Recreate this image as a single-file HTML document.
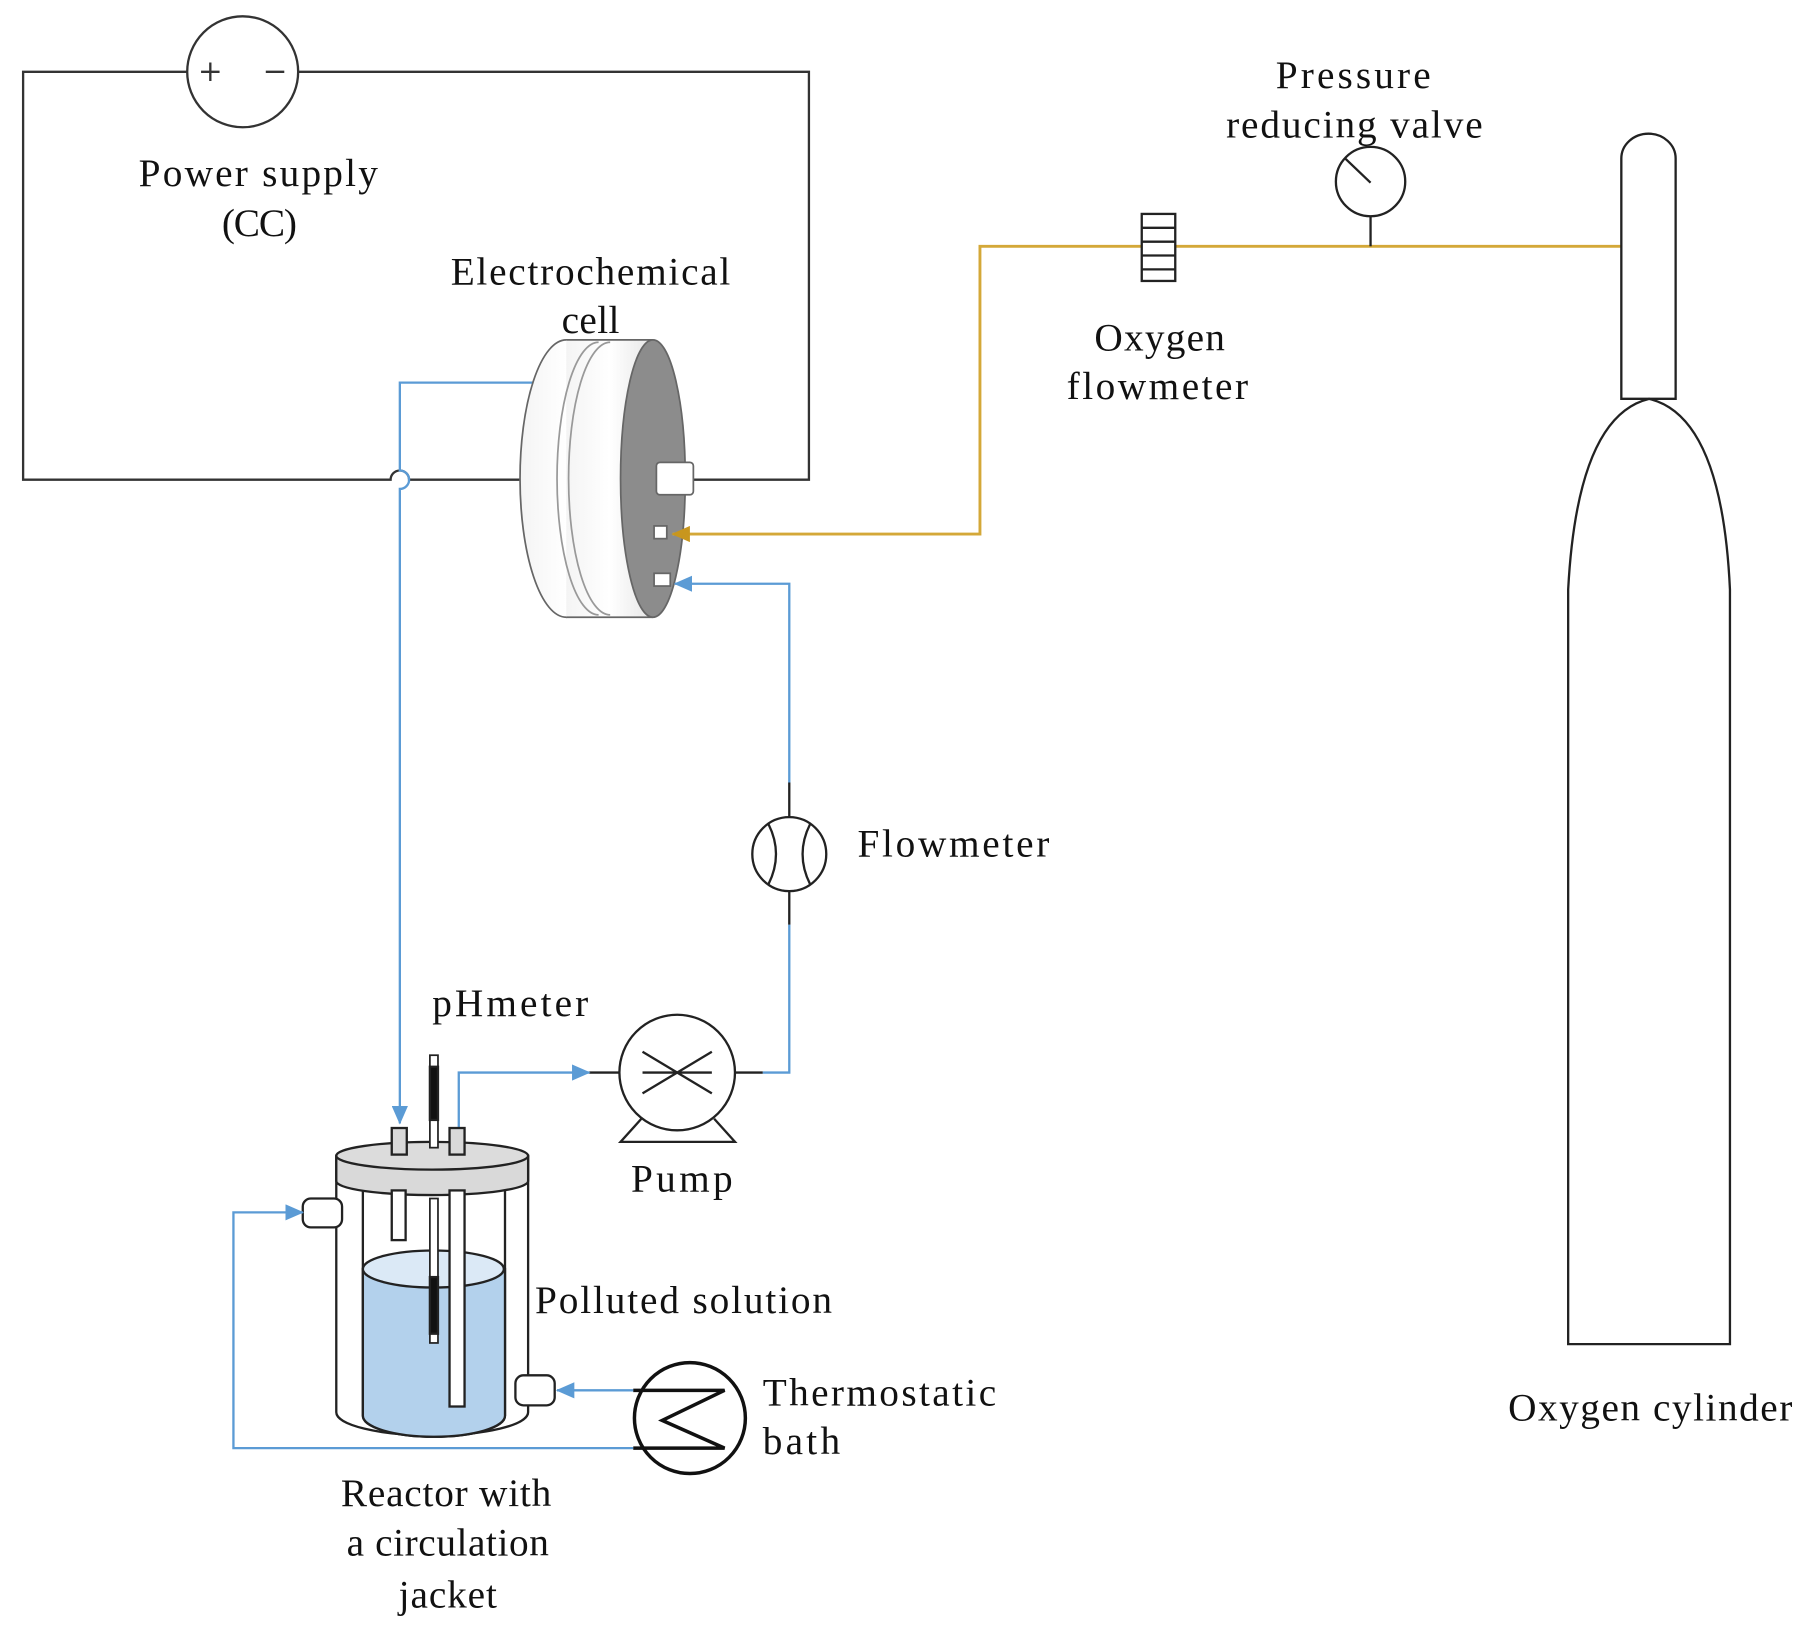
<!DOCTYPE html>
<html><head><meta charset="utf-8"><style>html,body{margin:0;padding:0;background:#fff}svg{display:block}text{font-family:"Liberation Serif",serif;font-size:34px;fill:#111}</style></head>
<body>
<svg width="1812" height="1632" viewBox="0 0 1568 1412" xmlns="http://www.w3.org/2000/svg">
<defs>
<marker id="ab" markerWidth="16" markerHeight="14" refX="15" refY="7" orient="auto" markerUnits="userSpaceOnUse"><path d="M0,0 L16,7 L0,14Z" fill="#5b9bd5"/></marker>
<marker id="ag" markerWidth="16" markerHeight="14" refX="15" refY="7" orient="auto" markerUnits="userSpaceOnUse"><path d="M0,0 L16,7 L0,14Z" fill="#c8961e"/></marker>
<linearGradient id="cg" x1="0" x2="1"><stop offset="0" stop-color="#f4f4f4"/><stop offset=".5" stop-color="#fff"/><stop offset="1" stop-color="#e6e6e6"/></linearGradient>
</defs>
<g fill="none" stroke="#333" stroke-width="2">
<path d="M162,62 H20 V415 H338 A8,8 0 0 1 354,415 H452"/>
<path d="M258,62 H700 V415 H600"/>
<circle cx="210" cy="62" r="48" fill="#fff"/>
<path d="M174,62 H190 M182,54 V70 M230,62 H246"/>
</g>
<text x="120" y="161" textLength="207">Power supply</text>
<text x="192" y="204" textLength="65">(CC)</text>
<text x="390" y="246" textLength="242">Electrochemical</text>
<text x="486" y="288" textLength="50">cell</text>
<path d="M462,331 H346 V407 A8,8 0 0 1 346,423 V972" fill="none" stroke="#5b9bd5" stroke-width="2" marker-end="url(#ab)"/>
<g stroke="#666" stroke-width="1.5">
<ellipse cx="490" cy="414" rx="40" ry="120" fill="url(#cg)"/>
<rect x="490" y="294" width="75" height="240" fill="url(#cg)" stroke="none"/>
<path d="M490,294 H565 M490,534 H565" fill="none"/>
<path d="M528,296 A36,118 0 0 0 528,532 M518,296 A36,118 0 0 0 518,532" fill="none" stroke="#999"/>
<ellipse cx="565" cy="414" rx="28" ry="120" fill="#8c8c8c"/>
<rect x="568" y="400" width="32" height="28" rx="3" fill="#fff"/>
<rect x="566" y="455" width="11" height="11" fill="#fff"/>
<rect x="566" y="496" width="14" height="11" fill="#fff"/>
</g>
<path d="M1420,213 H848 V462 H582" fill="none" stroke="#d4a838" stroke-width="2.5" marker-end="url(#ag)"/>
<g stroke="#222" stroke-width="2" fill="#fff">
<rect x="988" y="185" width="29" height="58"/>
<path d="M988,197 H1017 M988,209 H1017 M988,221 H1017 M988,233 H1017" fill="none"/>
<path d="M1186,187 V213" fill="none"/>
<circle cx="1186" cy="157" r="30"/>
<path d="M1164,137 L1186,158" fill="none"/>
<path d="M1403,345 V137 A23,21 0 0 1 1450,137 V345 Z"/>
<path d="M1357,1163 V510 Q1365,360 1427,345 Q1490,360 1497,510 V1163 Z"/>
</g>
<text x="947" y="303" textLength="113">Oxygen</text>
<text x="923" y="345" textLength="157">flowmeter</text>
<text x="1104" y="76" textLength="134">Pressure</text>
<text x="1061" y="119" textLength="222">reducing valve</text>
<text x="1305" y="1229" textLength="246">Oxygen cylinder</text>
<path d="M683,677 V505 H584" fill="none" stroke="#5b9bd5" stroke-width="2" marker-end="url(#ab)"/>
<path d="M683,800 V928 H660" fill="none" stroke="#5b9bd5" stroke-width="2"/>
<g stroke="#222" stroke-width="2" fill="#fff">
<path d="M683,677 V707 M683,771 V800" fill="none"/>
<circle cx="683" cy="739" r="32"/>
<path d="M665,713 Q678,739 665,765 M701,713 Q688,739 701,765" fill="none"/>
<path d="M636,928 H660 M510,928 H536" fill="none"/>
<path d="M555,968 L537,988 H636 L618,968"/>
<circle cx="586" cy="928" r="50"/>
<path d="M556,910 L616,946 M556,946 L616,910 M556,928 H616" fill="none"/>
</g>
<text x="742" y="741" textLength="166">Flowmeter</text>
<text x="374" y="879" textLength="135">pHmeter</text>
<text x="546" y="1031" textLength="88">Pump</text>
<path d="M397,978 V928 H510" fill="none" stroke="#5b9bd5" stroke-width="2" marker-end="url(#ab)"/>
<g stroke="#222" stroke-width="2">
<path d="M291,1000 V1222 A83,20 0 0 0 457,1222 V1000" fill="#fff"/>
<path d="M314,1030 V1225 A61,18 0 0 0 437,1225 V1030" fill="#fff"/>
<path d="M314,1098 V1225 A61,18 0 0 0 437,1225 V1098 Z" fill="#b3d1ec"/>
<ellipse cx="375" cy="1098" rx="61" ry="16" fill="#dbe9f6"/>
<path d="M291,1000 V1022 A83,12 0 0 0 457,1022 V1000 Z" fill="#d9d9d9"/>
<ellipse cx="374" cy="1000" rx="83" ry="12" fill="#dcdcdc"/>
<rect x="339" y="1030" width="12" height="43" fill="#fff"/>
<rect x="389" y="1030" width="13" height="187" fill="#fff"/>
<rect x="372" y="1037" width="7" height="125" fill="#fff" stroke-width="1.5"/>
<rect x="372" y="1105" width="7" height="49" fill="#111"/>
<rect x="372" y="913" width="7" height="80" fill="#fff" stroke-width="1.5"/>
<rect x="372" y="923" width="7" height="46" fill="#111"/>
<rect x="339" y="976" width="13" height="23" fill="#d9d9d9"/>
<rect x="389" y="976" width="13" height="23" fill="#d9d9d9"/>
<rect x="262" y="1037" width="34" height="25" rx="7" fill="#fff"/>
<rect x="446" y="1190" width="34" height="26" rx="7" fill="#fff"/>
</g>
<path d="M548,1203 H482" fill="none" stroke="#5b9bd5" stroke-width="2" marker-end="url(#ab)"/>
<path d="M548,1253 H202 V1049 H262" fill="none" stroke="#5b9bd5" stroke-width="2" marker-end="url(#ab)"/>
<circle cx="597" cy="1227" r="48" fill="#fff" stroke="#111" stroke-width="3"/>
<path d="M548,1203 H627 L573,1229 L627,1253 H548" fill="none" stroke="#111" stroke-width="3"/>
<text x="463" y="1136" textLength="257">Polluted solution</text>
<text x="660" y="1216" textLength="202">Thermostatic</text>
<text x="660" y="1258" textLength="67">bath</text>
<text x="295" y="1303" textLength="182">Reactor with</text>
<text x="300" y="1346" textLength="175">a circulation</text>
<text x="345" y="1391" textLength="85">jacket</text>
</svg>
</body></html>
